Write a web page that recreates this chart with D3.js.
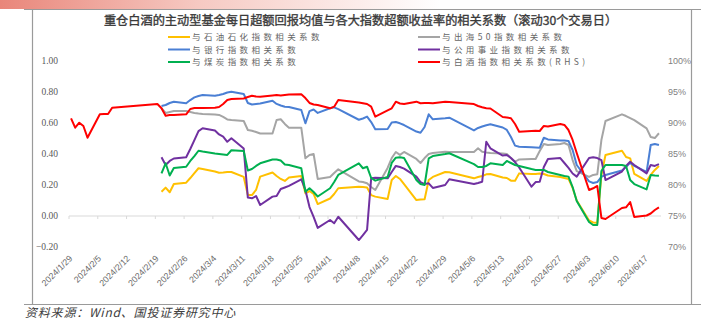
<!DOCTYPE html>
<html><head><meta charset="utf-8">
<script src="https://cdn.jsdelivr.net/npm/d3@7"></script>
<style>
html,body{margin:0;padding:0;background:#fff;}
svg{display:block;}
</style></head>
<body>
<svg id="chart" width="701" height="323"></svg>
<script>
const title = "重仓白酒的主动型基金每日超额回报均值与各大指数超额收益率的相关系数（滚动30个交易日）";
const source = "资料来源：Wind、国投证券研究中心";
const dates = ["2024-01-29","2024-01-30","2024-01-31","2024-02-01","2024-02-02","2024-02-05","2024-02-06","2024-02-07","2024-02-08","2024-02-19",
"2024-02-20","2024-02-21","2024-02-22","2024-02-23","2024-02-26","2024-02-27","2024-02-28","2024-02-29","2024-03-01","2024-03-04",
"2024-03-05","2024-03-06","2024-03-07","2024-03-08","2024-03-11","2024-03-12","2024-03-13","2024-03-14","2024-03-15","2024-03-18",
"2024-03-19","2024-03-20","2024-03-21","2024-03-22","2024-03-25","2024-03-26","2024-03-27","2024-03-28","2024-03-29","2024-04-01",
"2024-04-02","2024-04-03","2024-04-08","2024-04-09","2024-04-10","2024-04-11","2024-04-12","2024-04-15","2024-04-16","2024-04-17",
"2024-04-18","2024-04-19","2024-04-22","2024-04-23","2024-04-24","2024-04-25","2024-04-26","2024-04-29","2024-04-30","2024-05-06",
"2024-05-07","2024-05-08","2024-05-09","2024-05-10","2024-05-13","2024-05-14","2024-05-15","2024-05-16","2024-05-17","2024-05-20",
"2024-05-21","2024-05-22","2024-05-23","2024-05-24","2024-05-27","2024-05-28","2024-05-29","2024-05-30","2024-05-31","2024-06-03",
"2024-06-04","2024-06-05","2024-06-06","2024-06-07","2024-06-11","2024-06-12","2024-06-13","2024-06-14","2024-06-17","2024-06-18",
"2024-06-19","2024-06-20"];
// series starting 2024-02-20 (index 10)
const petro = [0.157,0.183,0.153,0.206,0.215,0.245,0.277,0.308,0.303,0.287,0.279,0.281,0.284,0.284,0.252,0.135,0.135,0.168,0.254,0.281,
0.258,0.239,0.226,0.248,0.258,0.146,0.161,0.142,0.077,0.113,0.142,0.179,0.189,0.187,0.184,0.135,0.125,0.110,0.232,0.258,
0.239,0.206,0.103,0.106,0.108,0.232,0.252,0.284,0.282,0.243,0.252,0.258,0.269,0.271,0.248,0.245,0.228,0.228,0.275,0.271,
0.271,0.274,0.271,0.261,0.252,0.245,0.239,0.181,0.100,-0.029,-0.042,-0.043,0.265,0.394,0.421,0.381,0.372,0.271,0.226,0.265,
0.297,0.323];
const overseas = [0.695,0.665,0.671,0.677,0.677,0.671,0.665,0.661,0.658,0.655,0.652,0.639,0.623,0.619,0.613,0.555,0.550,0.542,0.532,0.532,
0.619,0.624,0.594,0.570,0.570,0.372,0.394,0.400,0.239,0.252,0.277,0.301,0.223,0.219,0.211,0.187,0.168,0.310,0.374,0.413,
0.394,0.413,0.368,0.342,0.374,0.400,0.406,0.415,0.413,0.413,0.437,0.415,0.410,0.406,0.403,0.400,0.374,0.350,0.365,0.368,
0.368,0.419,0.465,0.458,0.465,0.471,0.458,0.361,0.290,0.252,0.265,0.269,0.490,0.613,0.656,0.645,0.632,0.619,0.565,0.510,
0.503,0.534];
const bank = [0.710,0.716,0.729,0.737,0.727,0.748,0.765,0.774,0.781,0.776,0.781,0.787,0.797,0.802,0.787,0.729,0.719,0.723,0.726,0.744,
0.723,0.713,0.705,0.703,0.684,0.598,0.677,0.687,0.665,0.695,0.701,0.690,0.621,0.629,0.641,0.606,0.559,0.561,0.603,0.606,
0.598,0.587,0.545,0.537,0.574,0.656,0.624,0.630,0.634,0.552,0.568,0.577,0.585,0.592,0.571,0.555,0.510,0.454,0.447,0.443,
0.442,0.441,0.505,0.494,0.487,0.487,0.484,0.426,0.329,0.223,0.213,0.219,0.252,0.265,0.294,0.316,0.344,0.323,0.284,0.458,
0.465,0.458];
const utility = [0.379,0.329,0.355,0.371,0.379,0.432,0.490,0.548,0.566,0.552,0.526,0.512,0.479,0.501,0.435,0.119,0.114,0.129,0.071,0.125,
0.129,0.174,0.184,0.194,0.237,0.168,0.058,-0.006,-0.077,-0.026,-0.047,-0.005,-0.155,-0.123,-0.090,0.243,0.247,0.243,0.284,0.323,
0.316,0.306,0.254,0.219,0.206,0.211,0.181,0.200,0.237,0.206,0.213,0.221,0.479,0.437,0.390,0.394,0.374,0.348,0.313,0.189,
0.219,0.221,0.316,0.368,0.374,0.342,0.310,0.274,0.254,0.374,0.379,0.374,0.361,0.232,0.287,0.323,0.350,0.329,0.275,0.329,
0.323,0.335];
const coal = [0.275,0.340,0.261,0.310,0.318,0.355,0.387,0.421,0.416,0.403,0.400,0.397,0.394,0.424,0.419,0.294,0.303,0.323,0.340,0.365,
0.365,0.358,0.332,0.329,0.308,0.157,0.179,0.155,0.126,0.179,0.219,0.265,0.340,0.308,0.318,0.245,0.228,0.252,0.342,0.376,
0.379,0.374,0.232,0.206,0.200,0.372,0.387,0.400,0.405,0.335,0.316,0.316,0.323,0.340,0.329,0.355,0.342,0.329,0.323,0.303,
0.297,0.297,0.297,0.284,0.265,0.258,0.254,0.187,0.097,-0.039,-0.058,-0.058,0.290,0.329,0.329,0.323,0.232,0.206,0.172,0.265,
0.261,0.260];
// RHS, percent, from 2024-01-29
const baijiu = [90.76,89.24,90.05,89.52,87.63,91.40,91.45,91.45,92.47,93.06,
92.37,91.18,91.29,91.29,91.40,92.26,92.42,92.42,92.42,92.47,92.58,93.06,93.71,93.87,93.95,94.19,94.40,94.27,94.24,94.44,
94.52,94.44,94.52,94.60,94.63,94.03,93.23,92.98,92.90,92.37,92.63,93.71,93.31,93.18,93.06,92.63,91.02,92.02,92.37,93.44,
93.15,93.06,93.44,93.18,93.23,93.23,93.18,93.44,93.39,93.06,92.74,92.53,92.37,92.34,90.97,90.89,90.76,89.84,88.60,88.71,
88.76,88.71,89.52,89.44,89.84,89.68,88.87,87.26,85.16,79.19,79.47,79.84,74.68,74.52,76.29,76.40,77.26,74.84,75.08,75.40,
75.97,76.40];
const leftTicks = [1.0,0.8,0.6,0.4,0.2,0.0,-0.2];
const rightTicks = [100,95,90,85,80,75,70];
const seriesNames = ["与石油石化指数相关系数","与出海50指数相关系数","与银行指数相关系数","与公用事业指数相关系数","与煤炭指数相关系数","与白酒指数相关系数(RHS)"];
const seriesColors = ["#FFC000","#A5A5A5","#4A7FD4","#7030A0","#00B050","#FF0000"];

const svg = d3.select("#chart");
const parse = d3.timeParse("%Y-%m-%d");
const dts = dates.map(parse);

// decoration
const defs = svg.append("defs");
const g0 = defs.append("linearGradient").attr("id","topgrad").attr("x1","0").attr("x2","1").attr("y1","0").attr("y2","0");
g0.append("stop").attr("offset","0").attr("stop-color","#e9867a");
g0.append("stop").attr("offset","0.45").attr("stop-color","#f6c9c2");
g0.append("stop").attr("offset","1").attr("stop-color","#ffffff");
svg.append("rect").attr("x",0).attr("y",0).attr("width",440).attr("height",9).attr("fill","url(#topgrad)");
const frame = svg.append("g").attr("stroke","#9a9a9a").attr("stroke-width",1.2).attr("fill","none");
frame.append("line").attr("x1",24).attr("x2",701).attr("y1",9.5).attr("y2",9.5);
frame.append("line").attr("x1",32.5).attr("x2",32.5).attr("y1",9.5).attr("y2",304.5);
frame.append("line").attr("x1",691.5).attr("x2",691.5).attr("y1",9.5).attr("y2",304.5);
frame.append("line").attr("x1",24).attr("x2",701).attr("y1",304.5).attr("y2",304.5);

// scales
const x = d3.scaleTime().domain([new Date(2024,0,29), new Date(2024,5,21)]).range([69, 661]);
const yL = d3.scaleLinear().domain([-0.2, 1.0]).range([247, 61]);
const yR = d3.scaleLinear().domain([70, 100]).range([247, 61]);
const xc = d => x(d3.timeHour.offset(d, 12));

// left labels
svg.append("g").selectAll("text").data(leftTicks).join("text")
  .attr("x",58).attr("y",d=>yL(d)).attr("dy","0.35em").attr("text-anchor","end")
  .attr("font-family","'Liberation Serif','Times New Roman',serif").attr("font-size",9.5).attr("fill","#595959")
  .text(d=>d3.format(".2f")(d));
// right labels
svg.append("g").selectAll("text").data(rightTicks).join("text")
  .attr("x",668).attr("y",d=>yR(d)).attr("dy","0.35em").attr("text-anchor","start")
  .attr("font-family","'Liberation Sans',Arial,sans-serif").attr("font-size",9).attr("fill","#7f7f7f")
  .text(d=>d+"%");

// x axis at zero
const tickDates = d3.timeMonday.range(new Date(2024,0,29), new Date(2024,5,18));
const xa = svg.append("g");
xa.append("line").attr("x1",x.range()[0]).attr("x2",x.range()[1]).attr("y1",yL(0)).attr("y2",yL(0))
  .attr("stroke","#d9d9d9").attr("stroke-width",1);
xa.selectAll("line.tk").data(tickDates).join("line").attr("class","tk")
  .attr("x1",d=>x(d)).attr("x2",d=>x(d)).attr("y1",yL(0)).attr("y2",yL(0)+3)
  .attr("stroke","#d9d9d9").attr("stroke-width",1);
const fmt = d3.timeFormat("%Y/%-m/%-d");
xa.selectAll("text").data(tickDates).join("text")
  .attr("transform",d=>`translate(${x(d)+4},259) rotate(-45)`)
  .attr("text-anchor","end")
  .attr("font-family","'Liberation Sans',Arial,sans-serif").attr("font-size",8.8).attr("fill","#6a6a6a")
  .text(d=>fmt(d));

// lines
const leftSeries = [petro, overseas, bank, utility, coal];
const offset = dates.length - petro.length;
const lineL = d3.line().x(d=>xc(d.date)).y(d=>yL(d.v));
leftSeries.forEach((s,i)=>{
  const pts = s.map((v,j)=>({date:dts[j+offset], v}));
  svg.append("path").datum(pts).attr("d",lineL).attr("fill","none")
    .attr("stroke",seriesColors[i]).attr("stroke-width",2).attr("stroke-linejoin","round");
});
const lineR = d3.line().x(d=>xc(d.date)).y(d=>yR(d.v));
svg.append("path").datum(baijiu.map((v,j)=>({date:dts[j], v}))).attr("d",lineR).attr("fill","none")
  .attr("stroke",seriesColors[5]).attr("stroke-width",2).attr("stroke-linejoin","round");

// title
svg.append("text").attr("x",360.5).attr("y",25).attr("text-anchor","middle")
  .attr("font-family","'Noto Sans CJK SC','Noto Sans',sans-serif").attr("font-size",12.2)
  .attr("fill","#3a3a3a").attr("stroke","#3a3a3a").attr("stroke-width",0.35).text(title);

// legend
const legPos = [[168,37],[418,37],[168,49.5],[418,49.5],[168,62],[418,62]];
const leg = svg.append("g").selectAll("g").data(seriesNames).join("g")
  .attr("transform",(d,i)=>`translate(${legPos[i][0]},${legPos[i][1]})`);
leg.append("line").attr("x1",0).attr("x2",22).attr("y1",0).attr("y2",0)
  .attr("stroke",(d,i)=>seriesColors[i]).attr("stroke-width",2);
leg.append("text").attr("x",24).attr("y",0).attr("dy","0.36em")
  .attr("font-family","'Noto Sans CJK SC',sans-serif").attr("font-size",8.5).attr("letter-spacing",3.4)
  .attr("fill","#666666").text(d=>d);

// source
svg.append("text").attr("x",25).attr("y",317).attr("font-family","'Noto Sans CJK SC',sans-serif")
  .attr("font-size",12).attr("font-style","italic").attr("letter-spacing",0.8).attr("fill","#404040").text(source);
</script>
</body></html>
